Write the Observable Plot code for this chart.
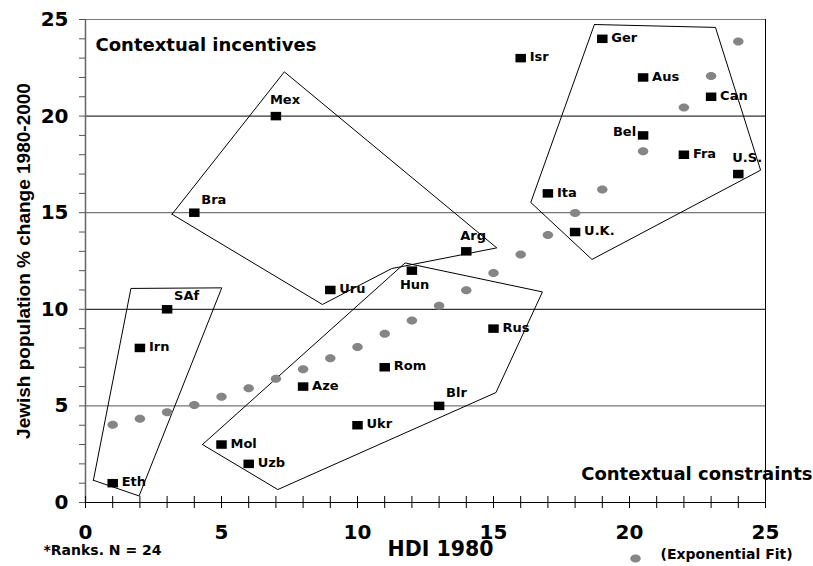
<!DOCTYPE html>
<html>
<head>
<meta charset="utf-8">
<script src="https://cdn.jsdelivr.net/npm/d3@7"></script>
<script src="https://cdn.jsdelivr.net/npm/@observablehq/plot@0.6"></script>
<style>
  html, body { margin: 0; padding: 0; background: #fff; }
  #chart svg { display: block; }
</style>
</head>
<body>
<div id="chart"></div>
<script>
// ---- Data (ranks, N = 24) ----
const countries = ["Eth","Irn","SAf","Bra","Mol","Uzb","Mex","Aze","Uru","Ukr","Rom","Hun","Blr","Arg","Rus","Isr","Ita","U.K.","Ger","Aus","Bel","Fra","Can","U.S."];
const hdiRank = [1,2,3,4,5,6,7,8,9,10,11,12,13,14,15,16,17,18,19,20.5,20.5,22,23,24];
const changeRank = [1,8,10,15,3,2,20,6,11,4,7,12,5,13,9,23,16,14,24,22,19,18,21,17];

// Exponential fit values
const fitX = [1,2,3,4,5,6,7,8,9,10,11,12,13,14,15,16,17,18,19,20.5,22,23,24];
const fitY = [4.02,4.33,4.67,5.05,5.47,5.92,6.40,6.90,7.47,8.05,8.73,9.42,10.18,10.99,11.88,12.84,13.85,14.99,16.2,18.18,20.44,22.08,23.86];

// Hand-drawn group outlines (vertices in chart units)
const regionAX = [0.29,1.67,5.01,1.97];
const regionAY = [1.15,11.08,11.11,0.34];
const regionBX = [3.18,7.31,15.12,11.26,8.71];
const regionBY = [14.92,22.29,13.18,12.11,10.25];
const regionCX = [4.30,11.75,16.80,15.09,7.07];
const regionCY = [3.0,12.40,10.9,5.69,0.67];
const regionDX = [18.71,23.16,24.82,18.62,16.37];
const regionDY = [24.74,24.59,17.2,12.58,15.53];

const xTicks = d3.range(0, 26);
const yTicks = d3.range(0, 26);
const xTitle = "HDI 1980";
const yTitle = "Jewish population % change 1980-2000";
const noteText = "*Ranks. N = 24";
const legendText = "(Exponential Fit)";
const topNote = "Contextual incentives";
const bottomNote = "Contextual constraints";

// ---- Build tables ----
const points = countries.map((c, i) => ({name: c, x: hdiRank[i], y: changeRank[i]}));
const fit = fitX.map((x, i) => ({x, y: fitY[i]}));
function ring(name, xs, ys) {
  const pts = xs.map((x, i) => ({region: name, x, y: ys[i]}));
  pts.push({...pts[0]});
  return pts;
}
const outlines = [
  ...ring("A", regionAX, regionAY),
  ...ring("B", regionBX, regionBY),
  ...ring("C", regionCX, regionCY),
  ...ring("D", regionDX, regionDY)
];

// Label placement around each marker
const placement = {Mex: "above", Arg: "above", "U.S.": "above", SAf: "aboveRight", Bra: "aboveRight", Blr: "aboveRight", Hun: "below", Bel: "left"};
const place = d => placement[d.name] || "right";

// custom symbols
const rectSym = {draw(ctx, size) { const r = Math.sqrt(size / Math.PI); const w = r * 1.05, h = r * 0.85; ctx.moveTo(-w, -h); ctx.lineTo(w, -h); ctx.lineTo(w, h); ctx.lineTo(-w, h); ctx.closePath(); }};
const ellipseSym = {draw(ctx, size) {
  const r = Math.sqrt(size / Math.PI); const rx = r * 1.05, ry = r * 0.8, k = 0.5523, kx = k * rx, ky = k * ry;
  ctx.moveTo(rx, 0);
  ctx.bezierCurveTo(rx, ky, kx, ry, 0, ry);
  ctx.bezierCurveTo(-kx, ry, -rx, ky, -rx, 0);
  ctx.bezierCurveTo(-rx, -ky, -kx, -ry, 0, -ry);
  ctx.bezierCurveTo(kx, -ry, rx, -ky, rx, 0);
  ctx.closePath();
}};

const gray = "#858585";
const labelFont = 13;

const chart = Plot.plot({
  width: 813,
  height: 566,
  marginLeft: 85,
  marginRight: 48,
  marginTop: 19,
  marginBottom: 64,
  x: {domain: [0, 25]},
  y: {domain: [0, 25]},
  style: {fontFamily: "DejaVu Sans", fontWeight: "bold", background: "#fff", color: "#000"},
  marks: [
    // gridlines & frame
    Plot.ruleY([10, 20], {stroke: "#000", strokeWidth: 1}),
    Plot.ruleY([5, 15], {stroke: "#777", strokeWidth: 1.2}),
    Plot.ruleY([25], {stroke: "#777", strokeWidth: 1.2}),
    Plot.ruleX([25], {stroke: "#000", strokeWidth: 1}),
    Plot.ruleX([0], {stroke: "#666", strokeWidth: 1.5}),
    Plot.ruleY([0], {stroke: "#000", strokeWidth: 1}),
    // axes
    Plot.axisY(yTicks, {tickSize: 6, tickPadding: 11, tickFormat: d => d % 5 === 0 ? d : "", fontSize: 20, label: null, stroke: "#555"}),
    Plot.axisX(xTicks, {tickSize: 6, tickPadding: 16, tickFormat: d => d % 5 === 0 ? d : "", fontSize: 20, label: null, stroke: "#000"}),
    Plot.tickX(xTicks, {x: d => d, insetTop: 477, stroke: "#000"}),
    // outlines
    Plot.line(outlines, {x: "x", y: "y", z: "region", stroke: "#000", strokeWidth: 1, curve: "linear"}),
    // fit
    Plot.dot(fit, {x: "x", y: "y", r: 5, symbol: ellipseSym, fill: gray, stroke: "none"}),
    // points
    Plot.dot(points, {x: "x", y: "y", r: 5, symbol: rectSym, fill: "#000", stroke: "none"}),
    // labels
    Plot.text(points.filter(d => place(d) === "right"), {x: "x", y: "y", text: "name", textAnchor: "start", dx: 9, dy: -1, fontSize: labelFont}),
    Plot.text(points.filter(d => place(d) === "aboveRight"), {x: "x", y: "y", text: "name", textAnchor: "start", dx: 7, dy: -13, fontSize: labelFont}),
    Plot.text(points.filter(d => place(d) === "above"), {x: "x", y: "y", text: "name", textAnchor: "start", dx: -6, dy: -16, fontSize: labelFont}),
    Plot.text(points.filter(d => place(d) === "below"), {x: "x", y: "y", text: "name", textAnchor: "start", dx: -12, dy: 14.5, fontSize: labelFont}),
    Plot.text(points.filter(d => place(d) === "left"), {x: "x", y: "y", text: "name", textAnchor: "end", dx: -7, dy: -4, fontSize: labelFont}),
    // annotations
    Plot.text([topNote], {text: d => d, frameAnchor: "top-left", textAnchor: "start", dx: 10, dy: 18.5, fontSize: 18}),
    Plot.text([bottomNote], {text: d => d, frameAnchor: "bottom-right", textAnchor: "end", dx: 47, dy: -23, fontSize: 18}),
    Plot.text([xTitle], {text: d => d, frameAnchor: "bottom", textAnchor: "middle", dx: 15, dy: 53, fontSize: 20.5}),
    Plot.text([yTitle], {text: d => d, frameAnchor: "left", textAnchor: "middle", rotate: -90, dx: -62, fontSize: 19, fontFamily: "Liberation Sans"}),
    Plot.text([noteText], {text: d => d, frameAnchor: "bottom-left", textAnchor: "start", dx: -42, dy: 52, fontSize: 14}),
    // legend
    Plot.dot([legendText], {frameAnchor: "bottom-right", dx: -130, dy: 56, r: 5, symbol: ellipseSym, fill: gray, stroke: "none"}),
    Plot.text([legendText], {text: d => d, frameAnchor: "bottom-right", textAnchor: "start", dx: -105, dy: 56.5, fontSize: 14})
  ]
});
document.getElementById("chart").appendChild(chart);
</script>
</body>
</html>
